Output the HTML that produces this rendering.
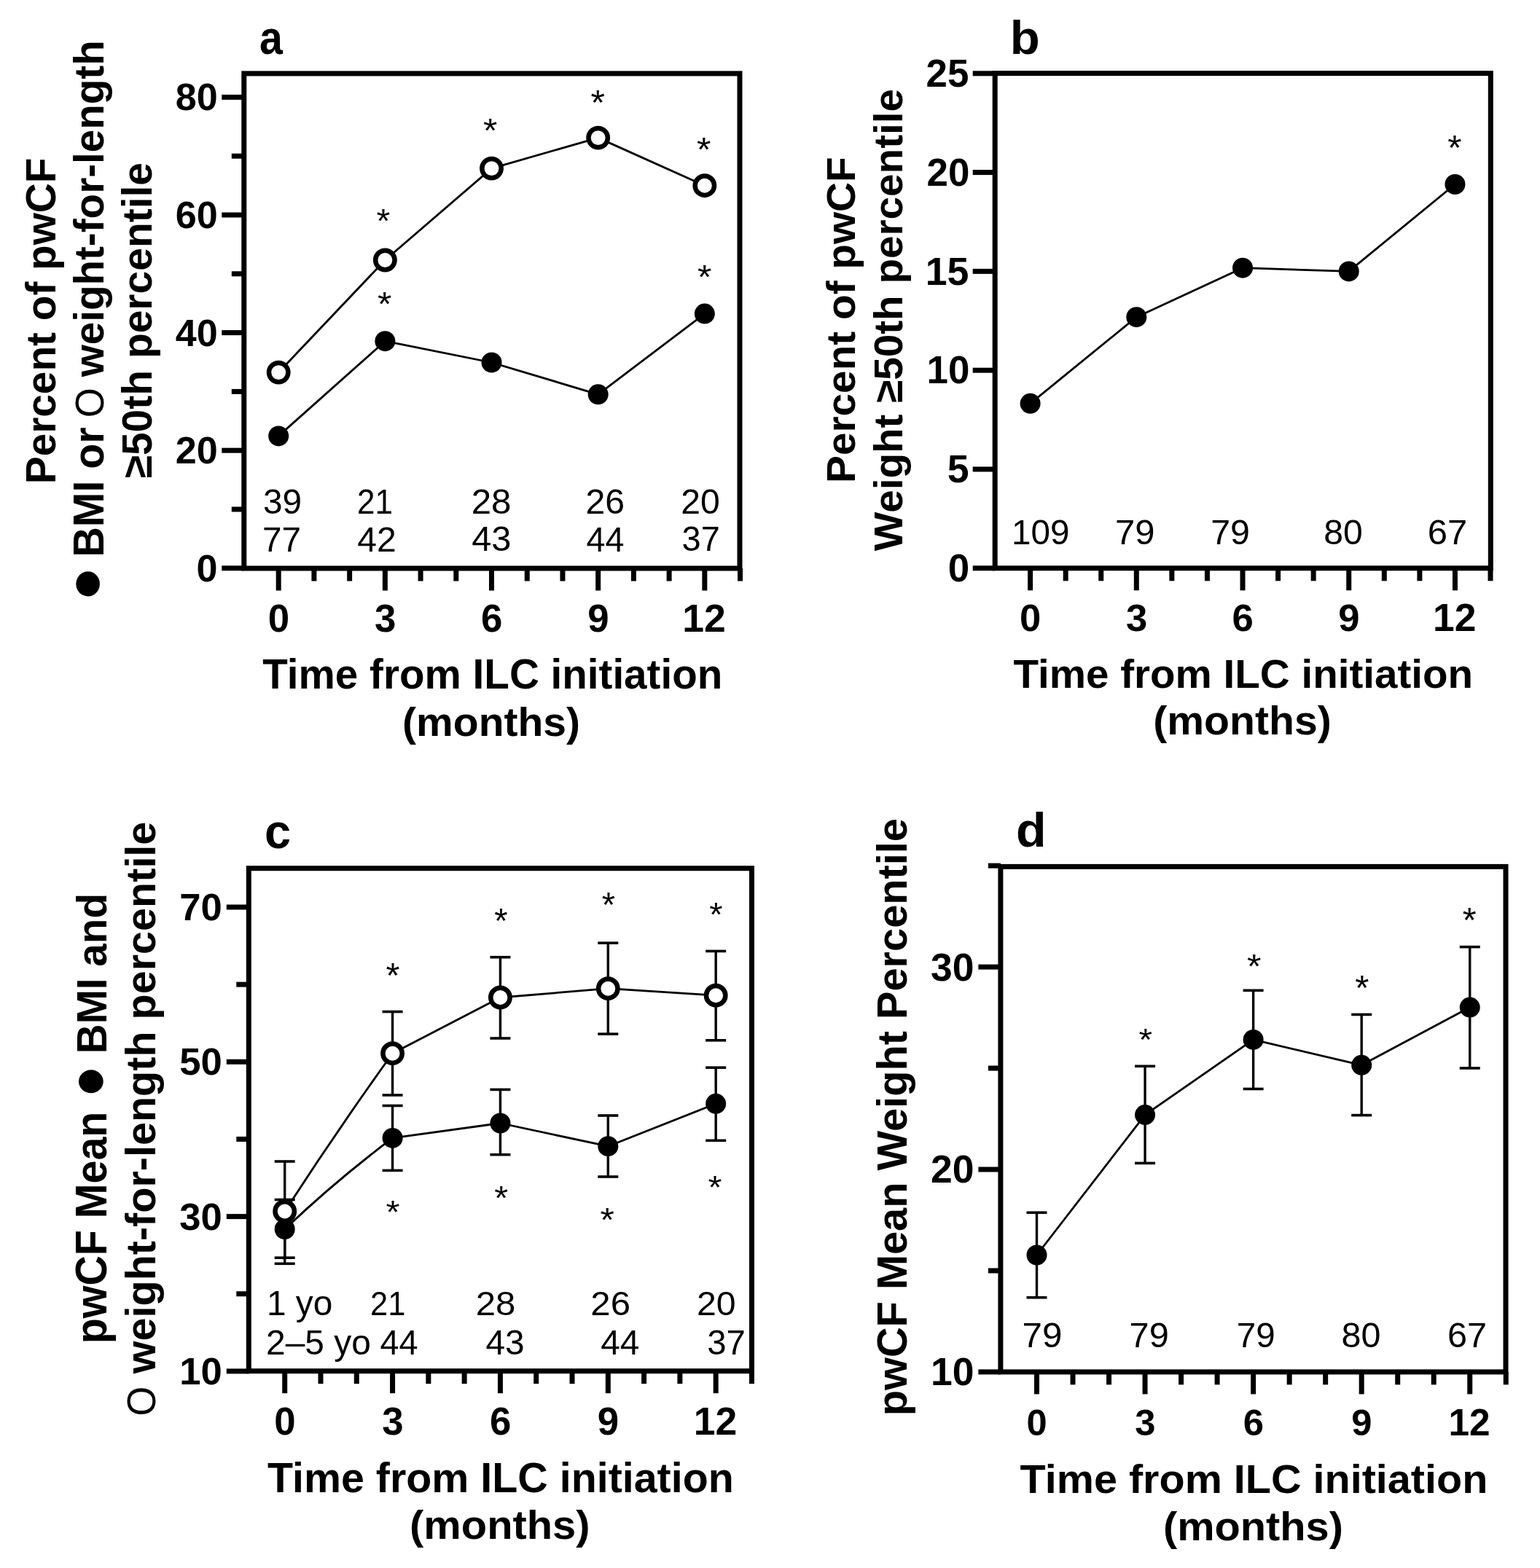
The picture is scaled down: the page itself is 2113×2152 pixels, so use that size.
<!DOCTYPE html>
<html lang="en"><head><meta charset="utf-8"><title>Figure: pwCF growth after ILC initiation</title>
<style>
html,body{margin:0;padding:0;background:#fff;width:2113px;height:2152px;overflow:hidden}
svg{display:block}
.t text{font-family:"Liberation Sans", Arial, Helvetica, sans-serif;font-size:100px;font-weight:bold;fill:#000}
.t text.n{font-weight:normal}
</style></head><body>
<svg width="2113" height="2152" viewBox="0 0 2113 2152">
<rect width="2113" height="2152" fill="#fff"/>
<g stroke="#000" fill="none">
<rect x="334.80" y="100.90" width="680.20" height="679.10" fill="none" stroke-width="7.0" stroke-linejoin="miter"/>
<line x1="304.30" y1="779.80" x2="334.80" y2="779.80" stroke-width="7.00"/>
<line x1="304.30" y1="618.20" x2="334.80" y2="618.20" stroke-width="7.00"/>
<line x1="304.30" y1="456.60" x2="334.80" y2="456.60" stroke-width="7.00"/>
<line x1="304.30" y1="295.00" x2="334.80" y2="295.00" stroke-width="7.00"/>
<line x1="304.30" y1="133.40" x2="334.80" y2="133.40" stroke-width="7.00"/>
<line x1="317.80" y1="699.00" x2="334.80" y2="699.00" stroke-width="7.00"/>
<line x1="317.80" y1="537.40" x2="334.80" y2="537.40" stroke-width="7.00"/>
<line x1="317.80" y1="375.80" x2="334.80" y2="375.80" stroke-width="7.00"/>
<line x1="317.80" y1="214.20" x2="334.80" y2="214.20" stroke-width="7.00"/>
<line x1="382.20" y1="780.00" x2="382.20" y2="810.50" stroke-width="7.00"/>
<line x1="430.92" y1="780.00" x2="430.92" y2="797.50" stroke-width="7.00"/>
<line x1="479.64" y1="780.00" x2="479.64" y2="797.50" stroke-width="7.00"/>
<line x1="528.36" y1="780.00" x2="528.36" y2="810.50" stroke-width="7.00"/>
<line x1="577.08" y1="780.00" x2="577.08" y2="797.50" stroke-width="7.00"/>
<line x1="625.80" y1="780.00" x2="625.80" y2="797.50" stroke-width="7.00"/>
<line x1="674.52" y1="780.00" x2="674.52" y2="810.50" stroke-width="7.00"/>
<line x1="723.24" y1="780.00" x2="723.24" y2="797.50" stroke-width="7.00"/>
<line x1="771.96" y1="780.00" x2="771.96" y2="797.50" stroke-width="7.00"/>
<line x1="820.68" y1="780.00" x2="820.68" y2="810.50" stroke-width="7.00"/>
<line x1="869.40" y1="780.00" x2="869.40" y2="797.50" stroke-width="7.00"/>
<line x1="918.12" y1="780.00" x2="918.12" y2="797.50" stroke-width="7.00"/>
<line x1="966.84" y1="780.00" x2="966.84" y2="810.50" stroke-width="7.00"/>
<line x1="1015.56" y1="780.00" x2="1015.56" y2="797.50" stroke-width="7.00"/>
<polyline fill="none" stroke-width="2.80" stroke-linejoin="round" points="382.20,511.10 528.36,357.00 674.52,231.10 820.68,189.10 966.84,254.70"/>
<polyline fill="none" stroke-width="2.80" stroke-linejoin="round" points="382.20,598.40 528.36,468.20 674.52,497.50 820.68,541.30 966.84,430.60"/>
<circle cx="382.20" cy="598.40" r="14.00" fill="#000" stroke="none"/>
<circle cx="528.36" cy="468.20" r="14.00" fill="#000" stroke="none"/>
<circle cx="674.52" cy="497.50" r="14.00" fill="#000" stroke="none"/>
<circle cx="820.68" cy="541.30" r="14.00" fill="#000" stroke="none"/>
<circle cx="966.84" cy="430.60" r="14.00" fill="#000" stroke="none"/>
<circle cx="382.20" cy="511.10" r="13.20" fill="#fff" stroke-width="6.50"/>
<circle cx="528.36" cy="357.00" r="13.20" fill="#fff" stroke-width="6.50"/>
<circle cx="674.52" cy="231.10" r="13.20" fill="#fff" stroke-width="6.50"/>
<circle cx="820.68" cy="189.10" r="13.20" fill="#fff" stroke-width="6.50"/>
<circle cx="966.84" cy="254.70" r="13.20" fill="#fff" stroke-width="6.50"/>
<rect x="1365.20" y="100.60" width="680.10" height="679.20" fill="none" stroke-width="7.0" stroke-linejoin="miter"/>
<line x1="1334.70" y1="779.80" x2="1365.20" y2="779.80" stroke-width="7.00"/>
<line x1="1334.70" y1="644.00" x2="1365.20" y2="644.00" stroke-width="7.00"/>
<line x1="1334.70" y1="508.20" x2="1365.20" y2="508.20" stroke-width="7.00"/>
<line x1="1334.70" y1="372.40" x2="1365.20" y2="372.40" stroke-width="7.00"/>
<line x1="1334.70" y1="236.60" x2="1365.20" y2="236.60" stroke-width="7.00"/>
<line x1="1334.70" y1="100.80" x2="1365.20" y2="100.80" stroke-width="7.00"/>
<line x1="1413.60" y1="779.80" x2="1413.60" y2="810.30" stroke-width="7.00"/>
<line x1="1462.17" y1="779.80" x2="1462.17" y2="797.30" stroke-width="7.00"/>
<line x1="1510.74" y1="779.80" x2="1510.74" y2="797.30" stroke-width="7.00"/>
<line x1="1559.31" y1="779.80" x2="1559.31" y2="810.30" stroke-width="7.00"/>
<line x1="1607.88" y1="779.80" x2="1607.88" y2="797.30" stroke-width="7.00"/>
<line x1="1656.45" y1="779.80" x2="1656.45" y2="797.30" stroke-width="7.00"/>
<line x1="1705.02" y1="779.80" x2="1705.02" y2="810.30" stroke-width="7.00"/>
<line x1="1753.59" y1="779.80" x2="1753.59" y2="797.30" stroke-width="7.00"/>
<line x1="1802.16" y1="779.80" x2="1802.16" y2="797.30" stroke-width="7.00"/>
<line x1="1850.73" y1="779.80" x2="1850.73" y2="810.30" stroke-width="7.00"/>
<line x1="1899.30" y1="779.80" x2="1899.30" y2="797.30" stroke-width="7.00"/>
<line x1="1947.87" y1="779.80" x2="1947.87" y2="797.30" stroke-width="7.00"/>
<line x1="1996.44" y1="779.80" x2="1996.44" y2="810.30" stroke-width="7.00"/>
<line x1="2045.01" y1="779.80" x2="2045.01" y2="797.30" stroke-width="7.00"/>
<polyline fill="none" stroke-width="2.80" stroke-linejoin="round" points="1413.60,553.80 1559.31,435.20 1705.02,367.70 1850.73,372.40 1996.44,253.00"/>
<circle cx="1413.60" cy="553.80" r="14.00" fill="#000" stroke="none"/>
<circle cx="1559.31" cy="435.20" r="14.00" fill="#000" stroke="none"/>
<circle cx="1705.02" cy="367.70" r="14.00" fill="#000" stroke="none"/>
<circle cx="1850.73" cy="372.40" r="14.00" fill="#000" stroke="none"/>
<circle cx="1996.44" cy="253.00" r="14.00" fill="#000" stroke="none"/>
<rect x="341.30" y="1191.70" width="690.20" height="690.00" fill="none" stroke-width="7.0" stroke-linejoin="miter"/>
<line x1="310.80" y1="1881.90" x2="341.30" y2="1881.90" stroke-width="7.00"/>
<line x1="310.80" y1="1669.60" x2="341.30" y2="1669.60" stroke-width="7.00"/>
<line x1="310.80" y1="1457.30" x2="341.30" y2="1457.30" stroke-width="7.00"/>
<line x1="310.80" y1="1245.00" x2="341.30" y2="1245.00" stroke-width="7.00"/>
<line x1="324.30" y1="1775.75" x2="341.30" y2="1775.75" stroke-width="7.00"/>
<line x1="324.30" y1="1563.45" x2="341.30" y2="1563.45" stroke-width="7.00"/>
<line x1="324.30" y1="1351.15" x2="341.30" y2="1351.15" stroke-width="7.00"/>
<line x1="390.70" y1="1881.70" x2="390.70" y2="1912.20" stroke-width="7.00"/>
<line x1="439.99" y1="1881.70" x2="439.99" y2="1899.20" stroke-width="7.00"/>
<line x1="489.28" y1="1881.70" x2="489.28" y2="1899.20" stroke-width="7.00"/>
<line x1="538.57" y1="1881.70" x2="538.57" y2="1912.20" stroke-width="7.00"/>
<line x1="587.86" y1="1881.70" x2="587.86" y2="1899.20" stroke-width="7.00"/>
<line x1="637.15" y1="1881.70" x2="637.15" y2="1899.20" stroke-width="7.00"/>
<line x1="686.44" y1="1881.70" x2="686.44" y2="1912.20" stroke-width="7.00"/>
<line x1="735.73" y1="1881.70" x2="735.73" y2="1899.20" stroke-width="7.00"/>
<line x1="785.02" y1="1881.70" x2="785.02" y2="1899.20" stroke-width="7.00"/>
<line x1="834.31" y1="1881.70" x2="834.31" y2="1912.20" stroke-width="7.00"/>
<line x1="883.60" y1="1881.70" x2="883.60" y2="1899.20" stroke-width="7.00"/>
<line x1="932.89" y1="1881.70" x2="932.89" y2="1899.20" stroke-width="7.00"/>
<line x1="982.18" y1="1881.70" x2="982.18" y2="1912.20" stroke-width="7.00"/>
<line x1="1031.47" y1="1881.70" x2="1031.47" y2="1899.20" stroke-width="7.00"/>
<line x1="390.70" y1="1646.50" x2="390.70" y2="1726.20" stroke-width="3.40"/>
<line x1="376.70" y1="1646.50" x2="404.70" y2="1646.50" stroke-width="3.60"/>
<line x1="376.70" y1="1726.20" x2="404.70" y2="1726.20" stroke-width="3.60"/>
<line x1="538.57" y1="1517.50" x2="538.57" y2="1606.40" stroke-width="3.40"/>
<line x1="524.57" y1="1517.50" x2="552.57" y2="1517.50" stroke-width="3.60"/>
<line x1="524.57" y1="1606.40" x2="552.57" y2="1606.40" stroke-width="3.60"/>
<line x1="686.44" y1="1495.40" x2="686.44" y2="1584.70" stroke-width="3.40"/>
<line x1="672.44" y1="1495.40" x2="700.44" y2="1495.40" stroke-width="3.60"/>
<line x1="672.44" y1="1584.70" x2="700.44" y2="1584.70" stroke-width="3.60"/>
<line x1="834.31" y1="1531.00" x2="834.31" y2="1615.00" stroke-width="3.40"/>
<line x1="820.31" y1="1531.00" x2="848.31" y2="1531.00" stroke-width="3.60"/>
<line x1="820.31" y1="1615.00" x2="848.31" y2="1615.00" stroke-width="3.60"/>
<line x1="982.18" y1="1465.20" x2="982.18" y2="1565.30" stroke-width="3.40"/>
<line x1="968.18" y1="1465.20" x2="996.18" y2="1465.20" stroke-width="3.60"/>
<line x1="968.18" y1="1565.30" x2="996.18" y2="1565.30" stroke-width="3.60"/>
<line x1="390.70" y1="1594.00" x2="390.70" y2="1734.30" stroke-width="3.40"/>
<line x1="376.70" y1="1594.00" x2="404.70" y2="1594.00" stroke-width="3.60"/>
<line x1="376.70" y1="1734.30" x2="404.70" y2="1734.30" stroke-width="3.60"/>
<line x1="538.57" y1="1388.50" x2="538.57" y2="1503.00" stroke-width="3.40"/>
<line x1="524.57" y1="1388.50" x2="552.57" y2="1388.50" stroke-width="3.60"/>
<line x1="524.57" y1="1503.00" x2="552.57" y2="1503.00" stroke-width="3.60"/>
<line x1="686.44" y1="1313.70" x2="686.44" y2="1425.00" stroke-width="3.40"/>
<line x1="672.44" y1="1313.70" x2="700.44" y2="1313.70" stroke-width="3.60"/>
<line x1="672.44" y1="1425.00" x2="700.44" y2="1425.00" stroke-width="3.60"/>
<line x1="834.31" y1="1294.20" x2="834.31" y2="1419.10" stroke-width="3.40"/>
<line x1="820.31" y1="1294.20" x2="848.31" y2="1294.20" stroke-width="3.60"/>
<line x1="820.31" y1="1419.10" x2="848.31" y2="1419.10" stroke-width="3.60"/>
<line x1="982.18" y1="1305.40" x2="982.18" y2="1427.80" stroke-width="3.40"/>
<line x1="968.18" y1="1305.40" x2="996.18" y2="1305.40" stroke-width="3.60"/>
<line x1="968.18" y1="1427.80" x2="996.18" y2="1427.80" stroke-width="3.60"/>
<path fill="none" stroke-width="2.80" stroke-linejoin="round" d="M390.70,1687.00 Q461.02,1620.17 538.57,1561.90 L686.44,1541.50 L834.31,1573.20 L982.18,1514.80"/>
<path fill="none" stroke-width="2.80" stroke-linejoin="round" d="M390.70,1662.50 Q461.99,1552.30 538.57,1445.70 L686.44,1369.00 L834.31,1356.70 L982.18,1366.20"/>
<circle cx="390.70" cy="1687.00" r="14.00" fill="#000" stroke="none"/>
<circle cx="538.57" cy="1561.90" r="14.00" fill="#000" stroke="none"/>
<circle cx="686.44" cy="1541.50" r="14.00" fill="#000" stroke="none"/>
<circle cx="834.31" cy="1573.20" r="14.00" fill="#000" stroke="none"/>
<circle cx="982.18" cy="1514.80" r="14.00" fill="#000" stroke="none"/>
<circle cx="390.70" cy="1662.50" r="13.20" fill="#fff" stroke-width="6.50"/>
<circle cx="538.57" cy="1445.70" r="13.20" fill="#fff" stroke-width="6.50"/>
<circle cx="686.44" cy="1369.00" r="13.20" fill="#fff" stroke-width="6.50"/>
<circle cx="834.31" cy="1356.70" r="13.20" fill="#fff" stroke-width="6.50"/>
<circle cx="982.18" cy="1366.20" r="13.20" fill="#fff" stroke-width="6.50"/>
<rect x="1372.90" y="1189.40" width="693.10" height="693.50" fill="none" stroke-width="7.0" stroke-linejoin="miter"/>
<line x1="1342.40" y1="1882.90" x2="1372.90" y2="1882.90" stroke-width="7.00"/>
<line x1="1342.40" y1="1605.00" x2="1372.90" y2="1605.00" stroke-width="7.00"/>
<line x1="1342.40" y1="1327.10" x2="1372.90" y2="1327.10" stroke-width="7.00"/>
<line x1="1355.90" y1="1743.95" x2="1372.90" y2="1743.95" stroke-width="7.00"/>
<line x1="1355.90" y1="1466.05" x2="1372.90" y2="1466.05" stroke-width="7.00"/>
<line x1="1355.90" y1="1188.15" x2="1372.90" y2="1188.15" stroke-width="7.00"/>
<line x1="1422.50" y1="1882.90" x2="1422.50" y2="1913.40" stroke-width="7.00"/>
<line x1="1472.02" y1="1882.90" x2="1472.02" y2="1900.40" stroke-width="7.00"/>
<line x1="1521.54" y1="1882.90" x2="1521.54" y2="1900.40" stroke-width="7.00"/>
<line x1="1571.06" y1="1882.90" x2="1571.06" y2="1913.40" stroke-width="7.00"/>
<line x1="1620.58" y1="1882.90" x2="1620.58" y2="1900.40" stroke-width="7.00"/>
<line x1="1670.10" y1="1882.90" x2="1670.10" y2="1900.40" stroke-width="7.00"/>
<line x1="1719.62" y1="1882.90" x2="1719.62" y2="1913.40" stroke-width="7.00"/>
<line x1="1769.14" y1="1882.90" x2="1769.14" y2="1900.40" stroke-width="7.00"/>
<line x1="1818.66" y1="1882.90" x2="1818.66" y2="1900.40" stroke-width="7.00"/>
<line x1="1868.18" y1="1882.90" x2="1868.18" y2="1913.40" stroke-width="7.00"/>
<line x1="1917.70" y1="1882.90" x2="1917.70" y2="1900.40" stroke-width="7.00"/>
<line x1="1967.22" y1="1882.90" x2="1967.22" y2="1900.40" stroke-width="7.00"/>
<line x1="2016.74" y1="1882.90" x2="2016.74" y2="1913.40" stroke-width="7.00"/>
<line x1="2066.26" y1="1882.90" x2="2066.26" y2="1900.40" stroke-width="7.00"/>
<line x1="1422.50" y1="1664.20" x2="1422.50" y2="1780.80" stroke-width="3.40"/>
<line x1="1408.50" y1="1664.20" x2="1436.50" y2="1664.20" stroke-width="3.60"/>
<line x1="1408.50" y1="1780.80" x2="1436.50" y2="1780.80" stroke-width="3.60"/>
<line x1="1571.06" y1="1463.30" x2="1571.06" y2="1596.40" stroke-width="3.40"/>
<line x1="1557.06" y1="1463.30" x2="1585.06" y2="1463.30" stroke-width="3.60"/>
<line x1="1557.06" y1="1596.40" x2="1585.06" y2="1596.40" stroke-width="3.60"/>
<line x1="1719.62" y1="1359.30" x2="1719.62" y2="1494.50" stroke-width="3.40"/>
<line x1="1705.62" y1="1359.30" x2="1733.62" y2="1359.30" stroke-width="3.60"/>
<line x1="1705.62" y1="1494.50" x2="1733.62" y2="1494.50" stroke-width="3.60"/>
<line x1="1868.18" y1="1392.40" x2="1868.18" y2="1530.60" stroke-width="3.40"/>
<line x1="1854.18" y1="1392.40" x2="1882.18" y2="1392.40" stroke-width="3.60"/>
<line x1="1854.18" y1="1530.60" x2="1882.18" y2="1530.60" stroke-width="3.60"/>
<line x1="2016.74" y1="1299.60" x2="2016.74" y2="1466.00" stroke-width="3.40"/>
<line x1="2002.74" y1="1299.60" x2="2030.74" y2="1299.60" stroke-width="3.60"/>
<line x1="2002.74" y1="1466.00" x2="2030.74" y2="1466.00" stroke-width="3.60"/>
<polyline fill="none" stroke-width="2.80" stroke-linejoin="round" points="1422.50,1722.50 1571.06,1530.10 1719.62,1426.90 1868.18,1461.80 2016.74,1382.60"/>
<circle cx="1422.50" cy="1722.50" r="14.00" fill="#000" stroke="none"/>
<circle cx="1571.06" cy="1530.10" r="14.00" fill="#000" stroke="none"/>
<circle cx="1719.62" cy="1426.90" r="14.00" fill="#000" stroke="none"/>
<circle cx="1868.18" cy="1461.80" r="14.00" fill="#000" stroke="none"/>
<circle cx="2016.74" cy="1382.60" r="14.00" fill="#000" stroke="none"/>
</g>
<g class="t">
<text transform="matrix(0.5727 0 0 0.6564 356.0545 73.9436)">a</text>
<text transform="matrix(0.6706 0 0 0.6527 1385.6765 74.4473)">b</text>
<text transform="matrix(0.6500 0 0 0.6582 363.0500 1164.4418)">c</text>
<text transform="matrix(0.6824 0 0 0.6622 1393.9706 1162.2378)">d</text>
<text transform="matrix(0.5211 0 0 0.5211 269.5014 797.7789)">0</text>
<text transform="matrix(0.5211 0 0 0.5211 240.8394 636.1789)">20</text>
<text transform="matrix(0.5211 0 0 0.5211 240.8394 474.5789)">40</text>
<text transform="matrix(0.5211 0 0 0.5211 240.8394 312.9789)">60</text>
<text transform="matrix(0.5211 0 0 0.5211 240.8394 151.3789)">80</text>
<text transform="matrix(0.5296 0 0 0.5296 1300.6620 798.0704)">0</text>
<text transform="matrix(0.5371 0 0 0.5371 1299.7314 662.2629)">5</text>
<text transform="matrix(0.5296 0 0 0.5296 1271.5352 526.4704)">10</text>
<text transform="matrix(0.5371 0 0 0.5371 1269.6514 390.6629)">15</text>
<text transform="matrix(0.5296 0 0 0.5296 1271.5352 254.8704)">20</text>
<text transform="matrix(0.5296 0 0 0.5296 1270.4761 119.0704)">25</text>
<text transform="matrix(0.5268 0 0 0.5268 246.3366 1900.0732)">10</text>
<text transform="matrix(0.5268 0 0 0.5268 246.3366 1687.7732)">30</text>
<text transform="matrix(0.5268 0 0 0.5268 246.3366 1475.4732)">50</text>
<text transform="matrix(0.5268 0 0 0.5268 246.3366 1263.1732)">70</text>
<text transform="matrix(0.5352 0 0 0.5352 1276.9324 1901.3648)">10</text>
<text transform="matrix(0.5352 0 0 0.5352 1276.9324 1623.4648)">20</text>
<text transform="matrix(0.5352 0 0 0.5352 1276.9324 1345.5648)">30</text>
<text transform="matrix(0.5282 0 0 0.5282 367.6754 866.8718)">0</text>
<text transform="matrix(0.5282 0 0 0.5282 514.0994 866.8718)">3</text>
<text transform="matrix(0.5282 0 0 0.5282 659.9954 866.8718)">6</text>
<text transform="matrix(0.5282 0 0 0.5282 806.1554 866.8718)">9</text>
<text transform="matrix(0.5357 0 0 0.5357 936.3043 867.4000)">12</text>
<text transform="matrix(0.5268 0 0 0.5268 1399.1141 865.6732)">0</text>
<text transform="matrix(0.5268 0 0 0.5268 1545.0875 865.6732)">3</text>
<text transform="matrix(0.5268 0 0 0.5268 1690.5341 865.6732)">6</text>
<text transform="matrix(0.5268 0 0 0.5268 1836.2441 865.6732)">9</text>
<text transform="matrix(0.5343 0 0 0.5343 1965.9857 866.2000)">12</text>
<text transform="matrix(0.5282 0 0 0.5282 376.1754 1968.7718)">0</text>
<text transform="matrix(0.5282 0 0 0.5282 524.3094 1968.7718)">3</text>
<text transform="matrix(0.5282 0 0 0.5282 671.9154 1968.7718)">6</text>
<text transform="matrix(0.5282 0 0 0.5282 819.7854 1968.7718)">9</text>
<text transform="matrix(0.5357 0 0 0.5357 951.6443 1969.3000)">12</text>
<text transform="matrix(0.5070 0 0 0.5070 1408.5563 1969.5930)">0</text>
<text transform="matrix(0.5070 0 0 0.5070 1557.3699 1969.5930)">3</text>
<text transform="matrix(0.5070 0 0 0.5070 1705.6763 1969.5930)">6</text>
<text transform="matrix(0.5070 0 0 0.5070 1854.2363 1969.5930)">9</text>
<text transform="matrix(0.5143 0 0 0.5143 1987.4257 1970.1000)">12</text>
<text transform="matrix(0.4779 0 0 0.4831 360.9663 704.8169)" class="n">39</text>
<text transform="matrix(0.4392 0 0 0.4900 490.0039 705.3000)" class="n">21</text>
<text transform="matrix(0.4922 0 0 0.4831 646.7392 704.8169)" class="n">28</text>
<text transform="matrix(0.4824 0 0 0.4831 803.4882 704.8169)" class="n">26</text>
<text transform="matrix(0.4816 0 0 0.4831 934.1922 704.8169)" class="n">20</text>
<text transform="matrix(0.4775 0 0 0.4900 360.0127 756.8000)" class="n">77</text>
<text transform="matrix(0.4810 0 0 0.4900 490.3381 756.8000)" class="n">42</text>
<text transform="matrix(0.4876 0 0 0.4831 647.2248 756.3169)" class="n">43</text>
<text transform="matrix(0.4673 0 0 0.4900 804.5654 756.8000)" class="n">44</text>
<text transform="matrix(0.4692 0 0 0.4831 935.5923 756.3169)" class="n">37</text>
<text transform="matrix(0.4763 0 0 0.4775 1388.0660 746.7225)" class="n">109</text>
<text transform="matrix(0.4902 0 0 0.4775 1530.0490 746.7225)" class="n">79</text>
<text transform="matrix(0.4833 0 0 0.4775 1661.1833 746.7225)" class="n">79</text>
<text transform="matrix(0.4808 0 0 0.4775 1816.2769 746.7225)" class="n">80</text>
<text transform="matrix(0.4902 0 0 0.4775 1958.6490 746.7225)" class="n">67</text>
<text transform="matrix(0.4941 0 0 0.4775 1402.5294 1849.1225)" class="n">79</text>
<text transform="matrix(0.4873 0 0 0.4775 1549.5637 1849.1225)" class="n">79</text>
<text transform="matrix(0.4755 0 0 0.4775 1696.7225 1849.1225)" class="n">79</text>
<text transform="matrix(0.4846 0 0 0.4775 1840.5615 1849.1225)" class="n">80</text>
<text transform="matrix(0.4863 0 0 0.4775 1986.0686 1849.1225)" class="n">67</text>
<text transform="matrix(0.4781 0 0 0.4739 365.9534 1804.6000)" class="n">1 yo</text>
<text transform="matrix(0.4353 0 0 0.4671 508.0235 1804.6000)" class="n">21</text>
<text transform="matrix(0.4922 0 0 0.4671 652.6392 1804.6000)" class="n">28</text>
<text transform="matrix(0.4922 0 0 0.4671 810.3392 1804.6000)" class="n">26</text>
<text transform="matrix(0.4825 0 0 0.4671 955.8874 1804.6000)" class="n">20</text>
<text transform="matrix(0.4788 0 0 0.4743 365.1062 1858.8000)" class="n">2–5 yo</text>
<text transform="matrix(0.4682 0 0 0.4743 521.5636 1858.8000)" class="n">44</text>
<text transform="matrix(0.4781 0 0 0.4743 666.4438 1858.8000)" class="n">43</text>
<text transform="matrix(0.4785 0 0 0.4743 824.1430 1858.8000)" class="n">44</text>
<text transform="matrix(0.4731 0 0 0.4743 970.1808 1858.8000)" class="n">37</text>
<text transform="matrix(0.5662 0 0 0.5712 360.2338 945.0000)">Time from ILC initiation</text>
<text transform="matrix(0.5706 0 0 0.5638 552.0471 1009.5596)">(months)</text>
<text transform="matrix(0.5658 0 0 0.5534 1390.4342 944.1000)">Time from ILC initiation</text>
<text transform="matrix(0.5718 0 0 0.5479 1582.2411 1008.3947)">(months)</text>
<text transform="matrix(0.5740 0 0 0.5685 367.0260 2048.3000)">Time from ILC initiation</text>
<text transform="matrix(0.5787 0 0 0.5553 562.1065 2112.0383)">(months)</text>
<text transform="matrix(0.5757 0 0 0.5534 1399.6243 2049.2000)">Time from ILC initiation</text>
<text transform="matrix(0.5778 0 0 0.5479 1595.9112 2113.7947)">(months)</text>
<text transform="matrix(0 -0.5676 0.5699 0 75.6000 664.2054)">Percent of pwCF</text>
<text transform="matrix(0 -0.7909 0.7591 0 141.8545 825.1273)">●</text>
<text transform="matrix(0 -0.5724 0.5957 0 141.5000 764.5342)">BMI or</text>
<text transform="matrix(0 -0.5275 0.5549 0 142.0451 573.3101)" class="n">O</text>
<text transform="matrix(0 -0.5660 0.5685 0 141.5000 517.3340)">weight-for-length</text>
<text transform="matrix(0 -0.5697 0.5726 0 207.7000 656.3394)">≥50th percentile</text>
<text transform="matrix(0 -0.5674 0.5548 0 1172.6000 662.9046)">Percent of pwCF</text>
<text transform="matrix(0 -0.5664 0.5548 0 1238.4000 756.2000)">Weight ≥50th percentile</text>
<text transform="matrix(0 -0.5737 0.6029 0 146.3000 1844.2423)">pwCF Mean</text>
<text transform="matrix(0 -0.7432 0.7864 0 147.4182 1506.6455)">●</text>
<text transform="matrix(0 -0.5668 0.5726 0 146.3000 1446.3011)">BMI and</text>
<text transform="matrix(0 -0.5246 0.5465 0 213.4535 1943.4986)" class="n">O</text>
<text transform="matrix(0 -0.5755 0.5685 0 212.7000 1885.2245)">weight-for-length percentile</text>
<text transform="matrix(0 -0.5775 0.5753 0 1244.1000 1943.2649)">pwCF Mean Weight Percentile</text>
<text transform="matrix(0.4838 0 0 0.4611 516.6162 318.9167)" class="n">*</text>
<text transform="matrix(0.4973 0 0 0.4583 517.9027 433.1250)" class="n">*</text>
<text transform="matrix(0.4973 0 0 0.4556 663.1027 194.9333)" class="n">*</text>
<text transform="matrix(0.5000 0 0 0.4833 810.5000 156.9500)" class="n">*</text>
<text transform="matrix(0.5000 0 0 0.4583 956.0000 221.1250)" class="n">*</text>
<text transform="matrix(0.5000 0 0 0.4556 957.0000 395.6333)" class="n">*</text>
<text transform="matrix(0.4946 0 0 0.4861 1986.3054 219.3417)" class="n">*</text>
<text transform="matrix(0.4865 0 0 0.4750 529.5135 1355.0750)" class="n">*</text>
<text transform="matrix(0.4703 0 0 0.4833 678.2297 1279.6500)" class="n">*</text>
<text transform="matrix(0.4703 0 0 0.4722 825.7297 1258.3833)" class="n">*</text>
<text transform="matrix(0.4703 0 0 0.4639 973.1297 1270.8083)" class="n">*</text>
<text transform="matrix(0.4865 0 0 0.4444 529.5135 1678.6667)" class="n">*</text>
<text transform="matrix(0.4865 0 0 0.4556 678.2135 1660.0333)" class="n">*</text>
<text transform="matrix(0.4973 0 0 0.4667 823.6027 1689.5000)" class="n">*</text>
<text transform="matrix(0.4865 0 0 0.4528 971.5135 1644.9417)" class="n">*</text>
<text transform="matrix(0.4757 0 0 0.4306 1562.4243 1440.6083)" class="n">*</text>
<text transform="matrix(0.5000 0 0 0.4694 1711.0000 1342.1917)" class="n">*</text>
<text transform="matrix(0.4919 0 0 0.4861 1859.3081 1372.3417)" class="n">*</text>
<text transform="matrix(0.4865 0 0 0.4778 2006.8135 1278.8667)" class="n">*</text>
</g>
</svg>
</body></html>
